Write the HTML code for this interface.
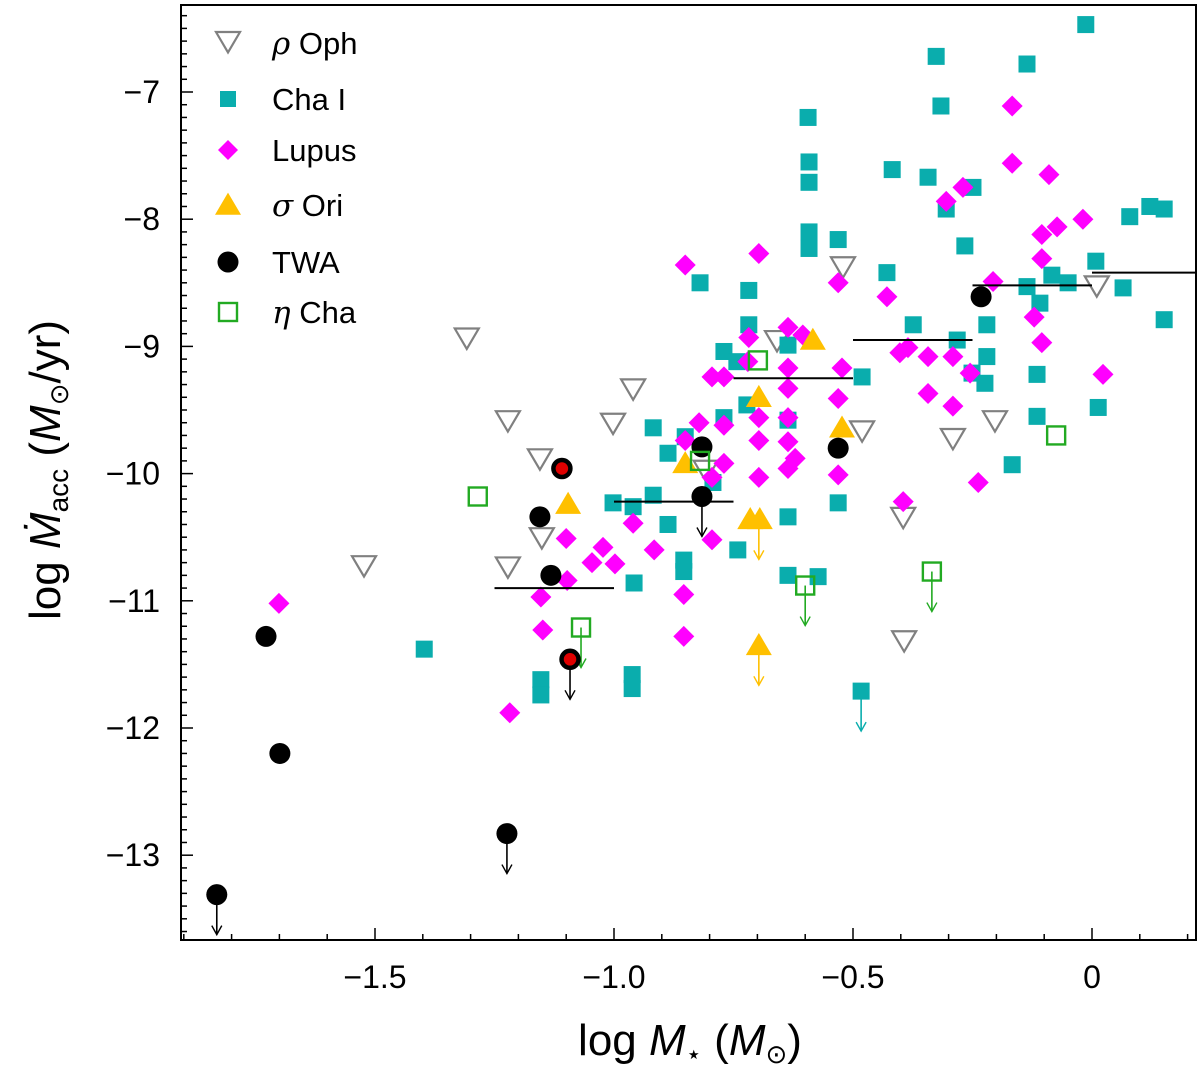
<!DOCTYPE html>
<html><head><meta charset="utf-8"><style>
html,body{margin:0;padding:0;background:#fff;}
svg{display:block;font-family:"Liberation Sans","DejaVu Sans",sans-serif;}
</style></head><body>
<svg id="chart" width="1200" height="1069" viewBox="0 0 1200 1069">
<defs><clipPath id="pc"><rect x="181" y="5" width="1015" height="935"/></clipPath></defs>
<rect x="0" y="0" width="1200" height="1069" fill="#fff"/>
<g id="plot" clip-path="url(#pc)"></g>
<g id="axes"></g>
<g id="legend"></g>
</svg>
<script>
// ---- data ----
const xTicks=[-1.5,-1.0,-0.5,0];
const xTickLabels=["\u22121.5","\u22121.0","\u22120.5","0"];
const yTicks=[-7,-8,-9,-10,-11,-12,-13];
const yTickLabels=["\u22127","\u22128","\u22129","\u221210","\u221211","\u221212","\u221213"];

const ophX=[-0.521,-0.659,-1.308,-0.960,-1.222,-1.002,-1.155,-1.151,-1.222,-1.523,-0.481,-0.291,-0.203,0.010,-0.395,-0.393,-0.808];
const ophY=[-8.37,-8.95,-8.93,-9.33,-9.58,-9.60,-9.88,-10.50,-10.73,-10.72,-9.66,-9.72,-9.58,-8.52,-10.34,-11.31,-9.97];

const chaX=[-0.013,-0.326,-0.136,-0.316,-0.418,-0.343,-0.249,-0.305,-0.266,-0.429,0.079,0.121,0.151,0.008,-0.084,-0.050,-0.136,-0.109,0.065,0.151,-0.374,-0.220,-0.282,-0.220,-0.251,-0.224,-0.115,-0.481,-0.115,0.013,-0.167,-0.531,-0.820,-0.718,-0.718,-0.770,-0.743,-0.636,-0.722,-0.770,-0.636,-0.918,-0.851,-0.887,-0.793,-0.918,-1.002,-0.960,-0.887,-0.636,-0.531,-0.594,-0.592,-0.592,-0.592,-0.592,-0.958,-0.854,-0.854,-0.741,-0.636,-0.573,-1.397,-1.153,-1.153,-0.962,-0.962,-0.483];
const chaY=[-6.47,-6.72,-6.78,-7.11,-7.61,-7.67,-7.75,-7.92,-8.21,-8.42,-7.98,-7.90,-7.92,-8.33,-8.44,-8.50,-8.53,-8.66,-8.54,-8.79,-8.83,-8.83,-8.95,-9.08,-9.21,-9.29,-9.22,-9.24,-9.55,-9.48,-9.93,-8.16,-8.50,-8.56,-8.83,-9.04,-9.12,-8.99,-9.46,-9.56,-9.58,-9.64,-9.71,-9.84,-10.07,-10.17,-10.23,-10.26,-10.40,-10.34,-10.23,-7.20,-7.55,-7.71,-8.10,-8.23,-10.86,-10.68,-10.77,-10.60,-10.80,-10.81,-11.38,-11.62,-11.74,-11.58,-11.69,-11.71];
const chaLimX=[-0.483];
const chaLimY=[-11.71];

const lupX=[-0.167,-0.167,-0.090,-0.270,-0.305,-0.019,-0.073,-0.105,-0.105,-0.207,-0.429,-0.121,-0.105,-0.402,-0.385,-0.343,-0.291,-0.255,-0.343,-0.291,0.023,-0.238,-0.395,-0.697,-0.851,-0.531,-0.636,-0.718,-0.605,-0.720,-0.795,-0.770,-0.636,-0.523,-0.636,-0.531,-0.822,-0.770,-0.697,-0.636,-0.697,-0.636,-0.851,-0.621,-0.636,-0.770,-0.795,-0.697,-0.531,-0.960,-1.701,-1.100,-1.023,-1.046,-1.098,-1.153,-1.149,-1.218,-0.854,-0.854,-0.795,-0.916,-0.998];
const lupY=[-7.11,-7.56,-7.65,-7.75,-7.86,-8.00,-8.06,-8.12,-8.31,-8.49,-8.61,-8.77,-8.97,-9.05,-9.01,-9.08,-9.08,-9.21,-9.37,-9.47,-9.22,-10.07,-10.22,-8.27,-8.36,-8.50,-8.85,-8.93,-8.91,-9.12,-9.24,-9.24,-9.17,-9.17,-9.33,-9.41,-9.60,-9.62,-9.56,-9.56,-9.74,-9.75,-9.74,-9.88,-9.96,-9.92,-10.03,-10.03,-10.01,-10.39,-11.02,-10.51,-10.58,-10.70,-10.84,-10.97,-11.23,-11.88,-10.95,-11.28,-10.52,-10.60,-10.71];

const oriX=[-0.584,-0.697,-0.851,-0.523,-1.096,-0.715,-0.695,-0.697];
const oriY=[-8.95,-9.40,-9.92,-9.64,-10.24,-10.36,-10.36,-11.35];
const oriLimX=[-0.697,-0.697];
const oriLimY=[-10.36,-11.35];

const twaX=[-0.232,-0.531,-0.816,-0.816,-1.109,-1.155,-1.132,-1.092,-1.728,-1.699,-1.224,-1.831];
const twaY=[-8.61,-9.80,-9.79,-10.18,-9.96,-10.34,-10.80,-11.46,-11.28,-12.20,-12.83,-13.31];
const twaRed=[false,false,false,false,true,false,false,true,false,false,false,false];
const twaLimX=[-0.816,-1.092,-1.224,-1.831];
const twaLimY=[-10.18,-11.46,-12.83,-13.31];

const etaX=[-1.285,-0.699,-0.820,-1.069,-0.600,-0.335,-0.075];
const etaY=[-10.18,-9.11,-9.90,-11.21,-10.88,-10.77,-9.70];
const etaLimX=[-1.069,-0.600,-0.335];
const etaLimY=[-11.21,-10.88,-10.77];

const binLo=[-1.25,-1.0,-0.75,-0.5,-0.25,0.0];
const binHi=[-1.0,-0.75,-0.5,-0.25,0.0,0.25];
const binMean=[-10.90,-10.22,-9.25,-8.95,-8.52,-8.42];

// ---- scales ----
const L=181,R=1196,T=5,B=940;
function sx(v){return 1092+v*478;}
function sy(v){return 92-(v+7)*127.2;}
const NS="http://www.w3.org/2000/svg";
function mk(tag,attrs,parent){const e=document.createElementNS(NS,tag);for(const k in attrs)e.setAttribute(k,attrs[k]);parent.appendChild(e);return e;}
const plot=document.getElementById('plot'),axes=document.getElementById('axes'),leg=document.getElementById('legend');

function arrow(x,y,col,parent){
  const px=sx(x),py=sy(y),ey=py+40;
  const g=mk('g',{},parent);
  
  
  mk('line',{x1:px,y1:py,x2:px,y2:ey,stroke:col,'stroke-width':1.6},g);
  mk('polyline',{points:(px-5)+','+(ey-9)+' '+px+','+ey+' '+(px+5)+','+(ey-9),fill:'none',stroke:col,'stroke-width':1.4},g);
}
function triDown(cx,cy,s,attrs,parent){return mk('polygon',Object.assign({points:(cx-s)+','+(cy-s*0.75)+' '+(cx+s)+','+(cy-s*0.75)+' '+cx+','+(cy+s*0.95)},attrs),parent);}
function triUp(cx,cy,s,attrs,parent){return mk('polygon',Object.assign({points:(cx-s)+','+(cy+s*0.75)+' '+(cx+s)+','+(cy+s*0.75)+' '+cx+','+(cy-s*0.95)},attrs),parent);}
function diamond(cx,cy,s,attrs,parent){return mk('polygon',Object.assign({points:cx+','+(cy-s)+' '+(cx+s)+','+cy+' '+cx+','+(cy+s)+' '+(cx-s)+','+cy},attrs),parent);}

chaLimX.forEach((v,i)=>arrow(v,chaLimY[i],'#0aadad',plot));
oriLimX.forEach((v,i)=>arrow(v,oriLimY[i],'#ffc000',plot));
twaLimX.forEach((v,i)=>arrow(v,twaLimY[i],'#000',plot));
etaLimX.forEach((v,i)=>arrow(v,etaLimY[i],'#22aa22',plot));

ophX.forEach((v,i)=>{const e=triDown(sx(v),sy(ophY[i]),12,{fill:'none',stroke:'#808080','stroke-width':2.2},plot);
 
 });
chaX.forEach((v,i)=>{const e=mk('rect',{x:sx(v)-8.5,y:sy(chaY[i])-8.5,width:17,height:17,fill:'#0aadad'},plot);
 
 });
lupX.forEach((v,i)=>{const e=diamond(sx(v),sy(lupY[i]),10.5,{fill:'#ff00ff'},plot);
 
 });
oriX.forEach((v,i)=>{const e=triUp(sx(v),sy(oriY[i]),13,{fill:'#ffc000'},plot);
 
 });
twaX.forEach((v,i)=>{const e=mk('circle',{cx:sx(v),cy:sy(twaY[i]),r:twaRed[i]?8.5:10.5,fill:twaRed[i]?'#e00000':'#000',stroke:'#000','stroke-width':twaRed[i]?4.5:0},plot);
 
 });
etaX.forEach((v,i)=>{const e=mk('rect',{x:sx(v)-9,y:sy(etaY[i])-9,width:18,height:18,fill:'none',stroke:'#22aa22','stroke-width':2.4},plot);
 
 });
binLo.forEach((v,i)=>{const e=mk('line',{x1:sx(v),x2:sx(binHi[i]),y1:sy(binMean[i]),y2:sy(binMean[i]),stroke:'#000','stroke-width':2},plot);
 
 });

const fr=mk('rect',{x:L,y:T,width:R-L,height:B-T,fill:'none',stroke:'#000','stroke-width':2},axes);


for(let k=-19;k<=2;k++){const v=k/10;const px=sx(v);if(px<L||px>R)continue;
 const major=Math.abs(k%5)===0;mk('line',{x1:px,x2:px,y1:B,y2:B-(major?12:6),stroke:'#000','stroke-width':1.5},axes);}
for(let k=-136;k<=-63;k++){const v=k/10;const py=sy(v);if(py<T||py>B)continue;
 const major=Math.abs(k%10)===0;mk('line',{x1:L,x2:L+(major?12:6),y1:py,y2:py,stroke:'#000','stroke-width':1.5},axes);}
xTicks.forEach((v,i)=>{const t=mk('text',{x:sx(v),y:988,'text-anchor':'middle','font-size':32,fill:'#000'},axes);t.textContent=xTickLabels[i];
 
 });
yTicks.forEach((v,i)=>{const t=mk('text',{x:160,y:sy(v)+11,'text-anchor':'end','font-size':32,fill:'#000'},axes);t.textContent=yTickLabels[i];
 
 });

const xt=mk('text',{x:690,y:1055,'text-anchor':'middle','font-size':44,fill:'#000'},axes);


xt.innerHTML='log <tspan font-style="italic">M</tspan><tspan font-size="26" dy="8">\u22c6</tspan><tspan dy="-8"> (</tspan><tspan font-style="italic">M</tspan><tspan font-size="26" dy="8">\u2299</tspan><tspan dy="-8">)</tspan>';
const yt=mk('text',{x:0,y:0,'text-anchor':'middle','font-size':44,fill:'#000',transform:'translate(60,470) rotate(-90)'},axes);


yt.innerHTML='log <tspan font-style="italic">\u1e40</tspan><tspan font-size="28" dy="8">acc</tspan><tspan dy="-8"> (</tspan><tspan font-style="italic">M</tspan><tspan font-size="26" dy="8">\u2299</tspan><tspan dy="-8">/yr)</tspan>';

const legNames=['rho-oph','cha-i','lupus','sigma-ori','twa','eta-cha'];
const legLabels=['<tspan font-style="italic" font-family="DejaVu Serif,serif">\u03c1</tspan> Oph','Cha I','Lupus','<tspan font-style="italic" font-family="DejaVu Serif,serif">\u03c3</tspan> Ori','TWA','<tspan font-style="italic" font-family="DejaVu Serif,serif">\u03b7</tspan> Cha'];
const legY=[43,99,150,205,262,312];
legLabels.forEach((lab,i)=>{const g=mk('g',{},leg);
 
 
 const cx=228,cy=legY[i];
 if(i===0)triDown(cx,cy-2,12,{fill:'none',stroke:'#808080','stroke-width':2.2},g);
 if(i===1)mk('rect',{x:cx-8,y:cy-8,width:16,height:16,fill:'#0aadad'},g);
 if(i===2)diamond(cx,cy,10,{fill:'#ff00ff'},g);
 if(i===3)triUp(cx,cy,13,{fill:'#ffc000'},g);
 if(i===4)mk('circle',{cx:cx,cy:cy,r:10.5,fill:'#000'},g);
 if(i===5)mk('rect',{x:cx-9,y:cy-9,width:18,height:18,fill:'none',stroke:'#22aa22','stroke-width':2.4},g);
 const t=mk('text',{x:272,y:cy+11,'font-size':31,fill:'#000'},g);t.innerHTML=lab;});
</script>
</body></html>
